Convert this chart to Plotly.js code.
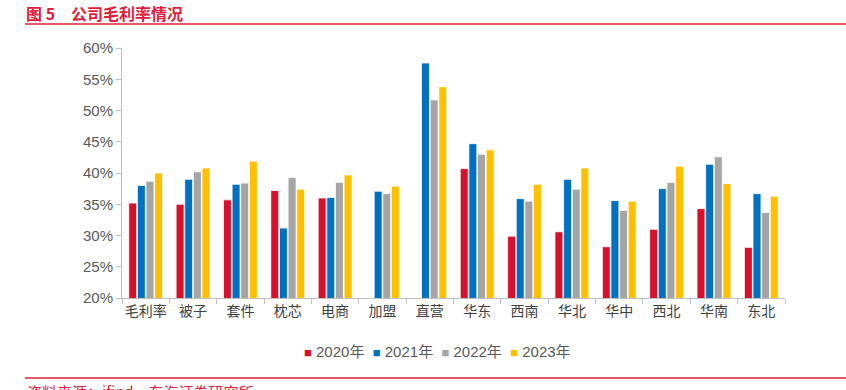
<!DOCTYPE html>
<html><head><meta charset="utf-8">
<script src="https://cdn.plot.ly/plotly-3.0.1.min.js"></script>
<style>html,body{margin:0;padding:0;background:#fff;}#chart{width:846px;height:390px;}</style>
</head><body><div id="chart"></div>
<script>
const categories = ['毛利率','被子','套件','枕芯','电商','加盟','直营','华东','西南','华北','华中','西北','华南','东北'];
const seriesNames = ['2020年','2021年','2022年','2023年'];
const v2020 = [35.2,35.0,35.7,37.2,36.0,null,null,40.7,29.9,30.6,28.2,31.0,34.3,28.1];
const v2021 = [38.0,39.0,38.2,31.2,36.1,37.1,57.6,44.7,35.9,39.0,35.6,37.5,41.4,36.7];
const v2022 = [38.7,40.2,38.4,39.3,38.5,36.7,51.7,43.0,35.5,37.4,34.0,38.5,42.6,33.7];
const v2023 = [40.0,40.8,41.9,37.4,39.7,37.9,53.8,43.7,38.2,40.8,35.5,41.1,38.3,36.3];
const colors = ['#D7102B','#0070C0','#A5A5A5','#FFC000'];
const allVals = [v2020,v2021,v2022,v2023];

const traces = allVals.map((vals,i)=>({
  type:'bar', name:seriesNames[i], x:categories, y:vals.map(v=>v==null?null:v/100),
  marker:{color:colors[i], line:{color:'#ffffff', width:0.8}},
  hoverinfo:'skip', showlegend:false
}));

// legend row built from series names and colours
const legendText = seriesNames.map((n,i)=>
  '<span style="color:'+colors[i]+';font-size:13px">■</span> '+n).join('  ');

const H = 250; // plot height in px
const layout = {
  width:846, height:390,
  margin:{l:122, r:61, t:48, b:92},
  paper_bgcolor:'#fff', plot_bgcolor:'#fff',
  barmode:'group', bargap:0.27, bargroupgap:0.08,
  font:{family:'"Liberation Sans", "Noto Sans CJK SC", sans-serif', color:'#595959'},
  xaxis:{
    showgrid:false, showline:true, linecolor:'#BFBFBF', linewidth:1,
    ticks:'outside', tickson:'boundaries', ticklen:5, tickcolor:'#BFBFBF',
    tickangle:0, automargin:false,
    tickfont:{size:14, color:'#404040', family:'"Noto Sans CJK SC", sans-serif'}, fixedrange:true
  },
  yaxis:{
    range:[0.2,0.6], dtick:0.05, tickformat:'.0%', automargin:false,
    showgrid:false, showline:true, linecolor:'#BFBFBF', linewidth:1,
    ticks:'outside', ticklen:5, tickcolor:'#BFBFBF', zeroline:false,
    tickfont:{size:15, family:'"Liberation Sans", Arial, sans-serif', color:'#595959'}, fixedrange:true
  },
  shapes:[
    {type:'line', xref:'paper', yref:'paper', x0:(25-122)/663, x1:(846-122)/663, y0:1+(48-24)/H, y1:1+(48-24)/H, line:{color:'#E0203A', width:1.5}},
    {type:'line', xref:'paper', yref:'paper', x0:(25-122)/663, x1:(846-122)/663, y0:-(378-298)/H, y1:-(378-298)/H, line:{color:'#E0203A', width:1.5}}
  ],
  annotations:[
    {xref:'paper', yref:'paper', x:(24-122)/663, y:1+(48-13)/H, xanchor:'left', yanchor:'middle', showarrow:false,
     text:'<b>图 5　公司毛利率情况</b>', font:{size:16, color:'#E0203A', family:'"Noto Sans CJK SC", sans-serif'}},
    {xref:'paper', yref:'paper', x:(25-122)/663, y:-(391-298)/H, xanchor:'left', yanchor:'middle', showarrow:false,
     text:'资料来源：ifind，东海证券研究所', font:{size:15, color:'#E0203A', family:'"Noto Sans CJK SC", sans-serif'}},
    {xref:'paper', yref:'paper', x:(437-122)/663, y:-(351-298)/H, xanchor:'center', yanchor:'middle', showarrow:false,
     text:legendText, font:{size:15, color:'#595959', family:'"Liberation Sans", "Noto Sans CJK SC", sans-serif'}}
  ],
  showlegend:false
};
Plotly.newPlot('chart', traces, layout, {displayModeBar:false, staticPlot:true});
</script></body></html>
